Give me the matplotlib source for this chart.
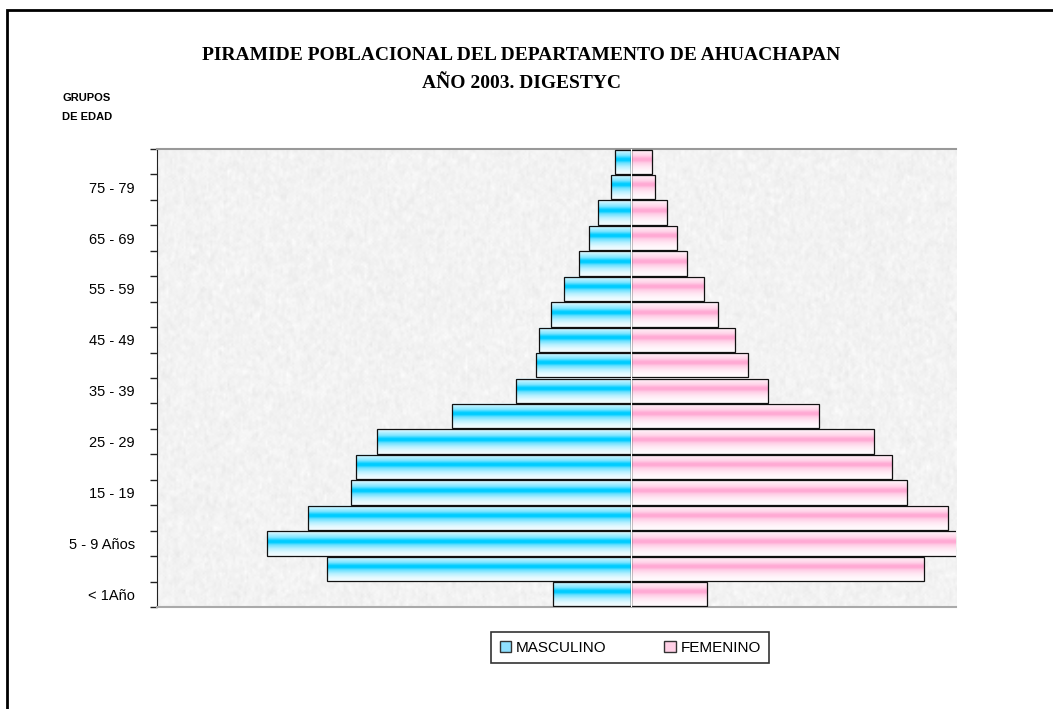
import numpy as np
import matplotlib.pyplot as plt
from matplotlib.patches import Patch, Rectangle

# age groups, bottom to top
grupos = ['< 1Año', '1 - 4', '5 - 9 Años', '10 - 14', '15 - 19', '20 - 24',
          '25 - 29', '30 - 34', '35 - 39', '40 - 44', '45 - 49', '50 - 54',
          '55 - 59', '60 - 64', '65 - 69', '70 - 74', '75 - 79', '80 y más']
masculino = [4900, 19170, 22980, 20390, 17680, 17330, 16020, 11280, 7230,
             6000, 5820, 5060, 4240, 3300, 2670, 2100, 1260, 990]
femenino = [4770, 18480, 21500, 19990, 17390, 16460, 15330, 11830, 8650,
            7370, 6530, 5500, 4580, 3550, 2920, 2270, 1510, 1340]

XLIM = (-29900, 20500)


def gradient(peak, n=64):
    # cylinder-like shading: whitish edges, strong colour a bit above middle
    t = np.linspace(0, 1, n)
    w = np.interp(t, [0, 0.1, 0.25, 0.38, 0.46, 0.55, 0.7, 0.85, 1.0],
                  [0.05, 0.25, 0.5, 1.0, 1.0, 0.6, 0.3, 0.12, 0.04])
    peak = np.array(peak) / 255.0
    col = 1 - w[:, None] * (1 - peak[None, :])
    return col[:, None, :]


fig = plt.figure(figsize=(10.53, 7.09), dpi=100)
ax = fig.add_axes([0.1491, 0.1439, 0.7588, 0.6459])

# textured grey background
rng = np.random.default_rng(7)
tex = rng.normal(0, 1, (240, 420))
tex = (tex + np.roll(tex, 1, 0) + np.roll(tex, 1, 1) + np.roll(tex, -1, 0)) / 4
tex = np.clip(0.95 + 0.022 * tex, 0.86, 1.0)
ax.imshow(tex, cmap='gray', vmin=0, vmax=1, extent=(XLIM[0], XLIM[1], -0.5, 17.5),
          aspect='auto', zorder=0, interpolation='bilinear')

y = np.arange(len(grupos))
bars_m = ax.barh(y, [-v for v in masculino], height=0.96, facecolor='none',
                 edgecolor='#111111', linewidth=0.9, zorder=3)
bars_f = ax.barh(y, femenino, height=0.96, facecolor='none',
                 edgecolor='#111111', linewidth=0.9, zorder=3)

g_m = gradient((0, 204, 255))
g_f = gradient((255, 170, 212))
for bars, g in ((bars_m, g_m), (bars_f, g_f)):
    for b in bars:
        x0, y0 = b.get_x(), b.get_y()
        w, h = b.get_width(), b.get_height()
        ax.imshow(g, extent=(x0, x0 + w, y0, y0 + h), aspect='auto',
                  origin='upper', zorder=2, interpolation='bilinear')

ax.axvline(0, color='white', linewidth=0.8, zorder=4)

ax.set_xlim(*XLIM)
ax.set_ylim(-0.5, 17.5)

ax.set_xticks([])
ax.set_yticks(y[::2])
ax.set_yticklabels(grupos[::2], fontsize=10.5, family='Liberation Sans')
ax.set_yticks(np.arange(-0.5, 18, 1), minor=True)
ax.tick_params(axis='y', which='major', length=0, pad=16)
ax.tick_params(axis='y', which='minor', length=5, width=1, color='#222222')

ax.spines['right'].set_visible(False)
ax.spines['left'].set_color('#222222')
ax.spines['top'].set_color('#999999')
ax.spines['top'].set_linewidth(1.5)
ax.spines['bottom'].set_color('#aaaaaa')
ax.spines['bottom'].set_linewidth(1.5)

fig.text(0.495, 0.922, 'PIRAMIDE POBLACIONAL DEL DEPARTAMENTO DE AHUACHAPAN',
         ha='center', va='center', fontsize=14, fontweight='bold',
         family='Liberation Serif')
fig.text(0.495, 0.882, 'AÑO 2003. DIGESTYC', ha='center', va='center',
         fontsize=14, fontweight='bold', family='Liberation Serif')
fig.text(0.059, 0.862, 'GRUPOS', ha='left', va='center', fontsize=8,
         fontweight='bold', family='Liberation Sans')
fig.text(0.059, 0.835, 'DE EDAD', ha='left', va='center', fontsize=8,
         fontweight='bold', family='Liberation Sans')

handles = [Patch(facecolor='#8fe0ff', edgecolor='#333333', label='MASCULINO'),
           Patch(facecolor='#ffd0e6', edgecolor='#333333', label='FEMENINO')]
leg = fig.legend(handles=handles, loc='center', bbox_to_anchor=(0.5985, 0.0865),
                 ncol=2, frameon=True, fancybox=False,
                 prop={'family': 'Liberation Sans', 'size': 11},
                 handlelength=0.75, handleheight=0.75, handletextpad=0.3,
                 columnspacing=3.8, borderpad=0.55, borderaxespad=0)
leg.get_frame().set_edgecolor('black')
leg.get_frame().set_linewidth(1.2)

# outer chart border
fig.patches.append(Rectangle((7 / 1053, -0.05), 1.2, 1 - 10 / 709 + 0.05,
                             transform=fig.transFigure, fill=False,
                             edgecolor='black', linewidth=2))

fig.savefig('out.png', dpi=100)
